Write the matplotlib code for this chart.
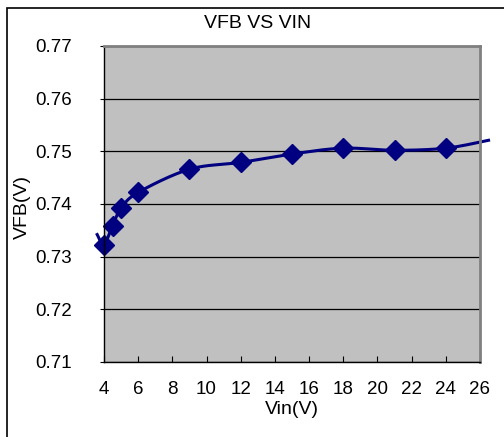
import numpy as np
import matplotlib
matplotlib.use("Agg")
import matplotlib.pyplot as plt
from matplotlib.patches import Rectangle

# data
vin = [4, 4.5, 5, 6, 9, 12, 15, 18, 21, 24]
vfb = [0.7323, 0.7359, 0.7392, 0.7422, 0.7466, 0.7479, 0.7495, 0.7506, 0.7502, 0.7506]
# trendline runs a little past the first and last point
trend_start = (3.6, 0.7342)
trend_end = (26.5, 0.7521)

x_ticks = list(range(4, 27, 2))
y_ticks = [0.71, 0.72, 0.73, 0.74, 0.75, 0.76, 0.77]


def catmull_rom(xs, ys, n=30):
    # smooth curve through the points, like Excel's smoothed line
    px = [xs[0]] + list(xs) + [xs[-1]]
    py = [ys[0]] + list(ys) + [ys[-1]]
    ox, oy = [], []
    t = np.linspace(0, 1, n)
    for i in range(1, len(px) - 2):
        for p, o in ((px, ox), (py, oy)):
            p0, p1, p2, p3 = p[i - 1], p[i], p[i + 1], p[i + 2]
            o.extend(0.5 * ((2 * p1) + (-p0 + p2) * t
                            + (2 * p0 - 5 * p1 + 4 * p2 - p3) * t ** 2
                            + (-p0 + 3 * p1 - 3 * p2 + p3) * t ** 3))
    return ox, oy


plt.rcParams["font.family"] = ["Liberation Sans", "DejaVu Sans"]

fig = plt.figure(figsize=(5.04, 4.37), dpi=100)
ax = fig.add_axes([104 / 504, 1 - 362 / 437, 376 / 504, 316 / 437])

# chart border (only top and left visible in the reference)
fig.patches.append(Rectangle((7 / 504, -0.1), 1.2, 1 - 8 / 437 + 0.1,
                             transform=fig.transFigure, fill=False,
                             edgecolor="black", linewidth=1.2))

ax.set_facecolor("#c0c0c0")
ax.set_xlim(4, 26)
ax.set_ylim(0.71, 0.77)
ax.set_yticks(y_ticks)
ax.set_yticklabels([f"{v:.2f}" for v in y_ticks])
ax.set_xticks(x_ticks)
ax.grid(axis="y", color="black", linewidth=0.9)
ax.set_axisbelow(True)

for s in ("top", "right"):
    ax.spines[s].set_color("#808080")
    ax.spines[s].set_linewidth(2)
ax.spines["left"].set_linewidth(1)
ax.spines["bottom"].set_linewidth(1)

ax.tick_params(axis="x", direction="in", length=4, labelsize=13.5, pad=14)
ax.tick_params(axis="y", direction="out", length=3, labelsize=13.5, pad=20)

lx, ly = catmull_rom([trend_start[0]] + vin + [trend_end[0]],
                     [trend_start[1]] + vfb + [trend_end[1]])
ax.plot(lx, ly, color="#000080", linewidth=2.2, clip_on=False)
ax.plot(vin, vfb, linestyle="none", marker="D", markersize=10.5,
        color="#000080", clip_on=False)

fig.text(258 / 504, 1 - 23 / 437, "VFB VS VIN", ha="center", va="center",
         fontsize=14)
ax.set_xlabel("Vin(V)", fontsize=14, labelpad=2)
fig.text(22 / 504, 1 - 207 / 437, "VFB(V)", rotation=90, ha="center",
         va="center", fontsize=14)

fig.savefig("out.png", dpi=100)
